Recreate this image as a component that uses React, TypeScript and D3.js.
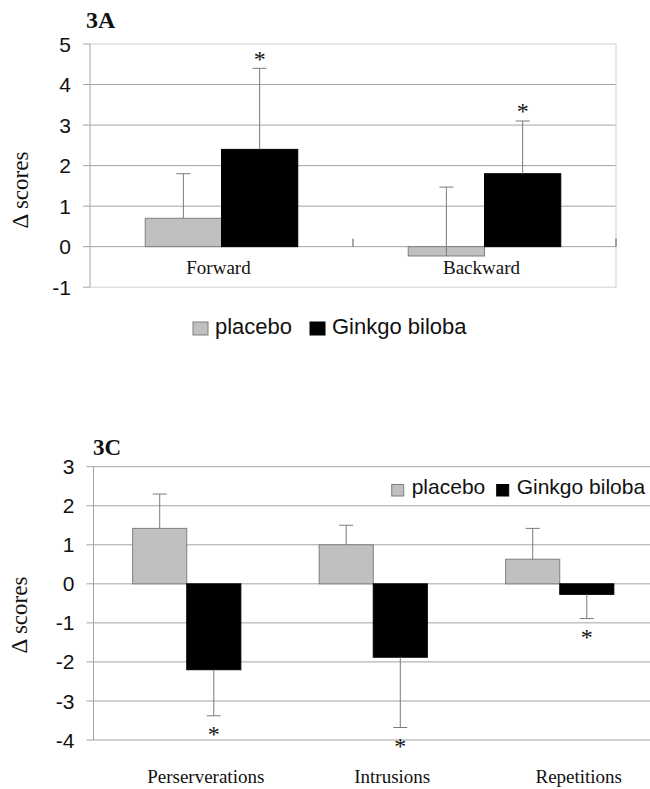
import React from 'react';
import * as d3 from 'd3';

// ---------- data ----------
const seriesNames = ['placebo', 'Ginkgo biloba'];

const categoriesA = ['Forward', 'Backward'];
const placeboA = [0.7, -0.23];
const ginkgoA = [2.4, 1.8];
const placeboErrEndA = [1.8, 1.47];
const ginkgoErrEndA = [4.4, 3.1];
const ginkgoStarA = [true, true];
const yTicksA = [-1, 0, 1, 2, 3, 4, 5];

const categoriesC = ['Perserverations', 'Intrusions', 'Repetitions'];
const placeboC = [1.42, 1.0, 0.63];
const ginkgoC = [-2.2, -1.88, -0.27];
const placeboErrEndC = [2.3, 1.5, 1.42];
const ginkgoErrEndC = [-3.38, -3.68, -0.89];
const ginkgoStarC = [true, true, true];
const yTicksC = [-4, -3, -2, -1, 0, 1, 2, 3];

const FILL = ['#c0c0c0', '#000000'];
const STROKE = ['#7f7f7f', '#000000'];
const GRID = '#a3a3a3';
const BORDER = '#cfcfcf';
const SANS = '"Liberation Sans", Arial, sans-serif';
const SERIF = '"Liberation Serif", "Times New Roman", serif';

type PanelProps = {
  title: string;
  titlePos: [number, number];
  titleSize: number;
  cats: string[];
  values: number[][];
  errEnds: number[][];
  stars: boolean[];
  ticks: number[];
  left: number;
  right: number;
  gridRight: number;
  yTop: number;
  yBottom: number;
  yLabelPos: [number, number];
  catLabelDx: number;
  catLabelY: number;
  catTicks: boolean;
  border: boolean;
  legend: { xs: number[]; y: number; sw: number; sh: number; tdx: number; fs: number; baseline: number };
};

function Panel(p: PanelProps) {
  const ext = d3.extent(p.ticks) as [number, number];
  const y = d3.scaleLinear().domain(ext).range([p.yBottom, p.yTop]);
  const x0 = d3.scaleBand<string>().domain(p.cats).range([p.left, p.right]).padding(0);
  const bw = x0.bandwidth() * 0.29;
  const x1 = d3.scaleBand<string>().domain(seriesNames).range([0, bw * 2]).padding(0);
  const groupStart = (c: string) => (x0(c) as number) + (x0.bandwidth() - bw * 2) / 2;
  const starFs = 24;

  return (
    <g>
      {/* gridlines */}
      {p.ticks.map((t, i) => {
        const isEdge = t === ext[0] || t === ext[1];
        return (
          <line key={'g' + i} x1={p.left} x2={p.gridRight} y1={y(t)} y2={y(t)}
            stroke={isEdge && p.border ? BORDER : GRID} strokeWidth={1} />
        );
      })}
      {p.border && (
        <line x1={p.gridRight} x2={p.gridRight} y1={y(ext[1])} y2={y(ext[0])} stroke={BORDER} strokeWidth={1} />
      )}
      {/* y axis */}
      <line x1={p.left} x2={p.left} y1={y(ext[1])} y2={y(ext[0])} stroke={GRID} strokeWidth={1} />
      {p.ticks.map((t, i) => (
        <g key={'t' + i}>
          <line x1={p.left - 7} x2={p.left} y1={y(t)} y2={y(t)} stroke={GRID} />
          <text x={p.left - 19} y={y(t)} dy="0.36em" textAnchor="end" fontFamily={SANS} fontSize={21} fill="#111">
            {t}
          </text>
        </g>
      ))}
      {/* category ticks */}
      {p.catTicks && p.cats.map((c, i) => {
        const xb = (x0(c) as number) + x0.bandwidth();
        return <line key={'ct' + i} x1={xb} x2={xb} y1={y(0) - 8} y2={y(0)} stroke="#555" />;
      })}
      {/* bars */}
      {p.cats.map((c, ci) => (
        <g key={'b' + ci}>
          {seriesNames.map((s, si) => {
            const v = p.values[si][ci];
            const bx = groupStart(c) + (x1(s) as number);
            return (
              <rect key={s} x={bx} width={x1.bandwidth()} y={y(Math.max(0, v))}
                height={Math.abs(y(v) - y(0))} fill={FILL[si]} stroke={STROKE[si]} strokeWidth={1} />
            );
          })}
        </g>
      ))}
      {/* error bars */}
      {p.cats.map((c, ci) => (
        <g key={'e' + ci}>
          {seriesNames.map((s, si) => {
            const v = p.values[si][ci];
            const e = p.errEnds[si][ci];
            const cx = groupStart(c) + (x1(s) as number) + x1.bandwidth() / 2;
            return (
              <g key={s}>
                <line x1={cx} x2={cx} y1={y(v)} y2={y(e)} stroke="#7a7a7a" strokeWidth={1} />
                <line x1={cx - 7} x2={cx + 7} y1={y(e)} y2={y(e)} stroke="#7a7a7a" strokeWidth={1} />
              </g>
            );
          })}
        </g>
      ))}
      {/* significance stars */}
      {p.cats.map((c, ci) => {
        if (!p.stars[ci]) return null;
        const e = p.errEnds[1][ci];
        const v = p.values[1][ci];
        const cx = groupStart(c) + (x1(seriesNames[1]) as number) + x1.bandwidth() / 2;
        const up = e >= v;
        const centerY = up ? y(e) - 13 : y(e) + 15;
        return (
          <text key={'s' + ci} x={cx} y={centerY + starFs * 0.47} textAnchor="middle"
            fontFamily={SERIF} fontSize={starFs} fill="#111">*</text>
        );
      })}
      {/* category labels */}
      {p.cats.map((c, ci) => (
        <text key={'cl' + ci} x={(x0(c) as number) + x0.bandwidth() / 2 + p.catLabelDx} y={p.catLabelY}
          textAnchor="middle" fontFamily={SERIF} fontSize={19} fill="#111">{c}</text>
      ))}
      {/* title */}
      <text x={p.titlePos[0]} y={p.titlePos[1]} fontFamily={SERIF} fontWeight="bold" fontSize={p.titleSize} fill="#111">
        {p.title}
      </text>
      {/* y axis label */}
      <text transform={`translate(${p.yLabelPos[0]},${p.yLabelPos[1]}) rotate(-90)`} textAnchor="middle"
        fontFamily={SERIF} fontSize={23} fill="#111">Δ scores</text>
      {/* legend */}
      {seriesNames.map((s, si) => (
        <g key={'l' + si}>
          <rect x={p.legend.xs[si]} y={p.legend.y} width={p.legend.sw} height={p.legend.sh}
            fill={FILL[si]} stroke={STROKE[si]} strokeWidth={1} />
          <text x={p.legend.xs[si] + p.legend.tdx} y={p.legend.baseline} fontFamily={SANS}
            fontSize={p.legend.fs} fill="#111">{s}</text>
        </g>
      ))}
    </g>
  );
}

export default function App() {
  return (
    <svg width={650} height={789} style={{ position: 'absolute', left: 0, top: 0, background: '#fff' }}>
      <rect width={650} height={789} fill="#fff" />
      <Panel
        title="3A" titlePos={[86, 28]} titleSize={24}
        cats={categoriesA} values={[placeboA, ginkgoA]} errEnds={[placeboErrEndA, ginkgoErrEndA]}
        stars={ginkgoStarA} ticks={yTicksA}
        left={90} right={616} gridRight={616} yTop={44} yBottom={287.2}
        yLabelPos={[28, 190]} catLabelDx={-3} catLabelY={274} catTicks={true} border={true}
        legend={{ xs: [193, 310], y: 322, sw: 15, sh: 13, tdx: 22, fs: 22, baseline: 334 }}
      />
      <Panel
        title="3C" titlePos={[93, 455]} titleSize={23}
        cats={categoriesC} values={[placeboC, ginkgoC]} errEnds={[placeboErrEndC, ginkgoErrEndC]}
        stars={ginkgoStarC} ticks={yTicksC}
        left={93.5} right={653} gridRight={660} yTop={466.7} yBottom={740}
        yLabelPos={[27, 615]} catLabelDx={19} catLabelY={783} catTicks={false} border={false}
        legend={{ xs: [391.7, 496.7], y: 484.5, sw: 12, sh: 11.5, tdx: 20, fs: 21, baseline: 494 }}
      />
    </svg>
  );
}
